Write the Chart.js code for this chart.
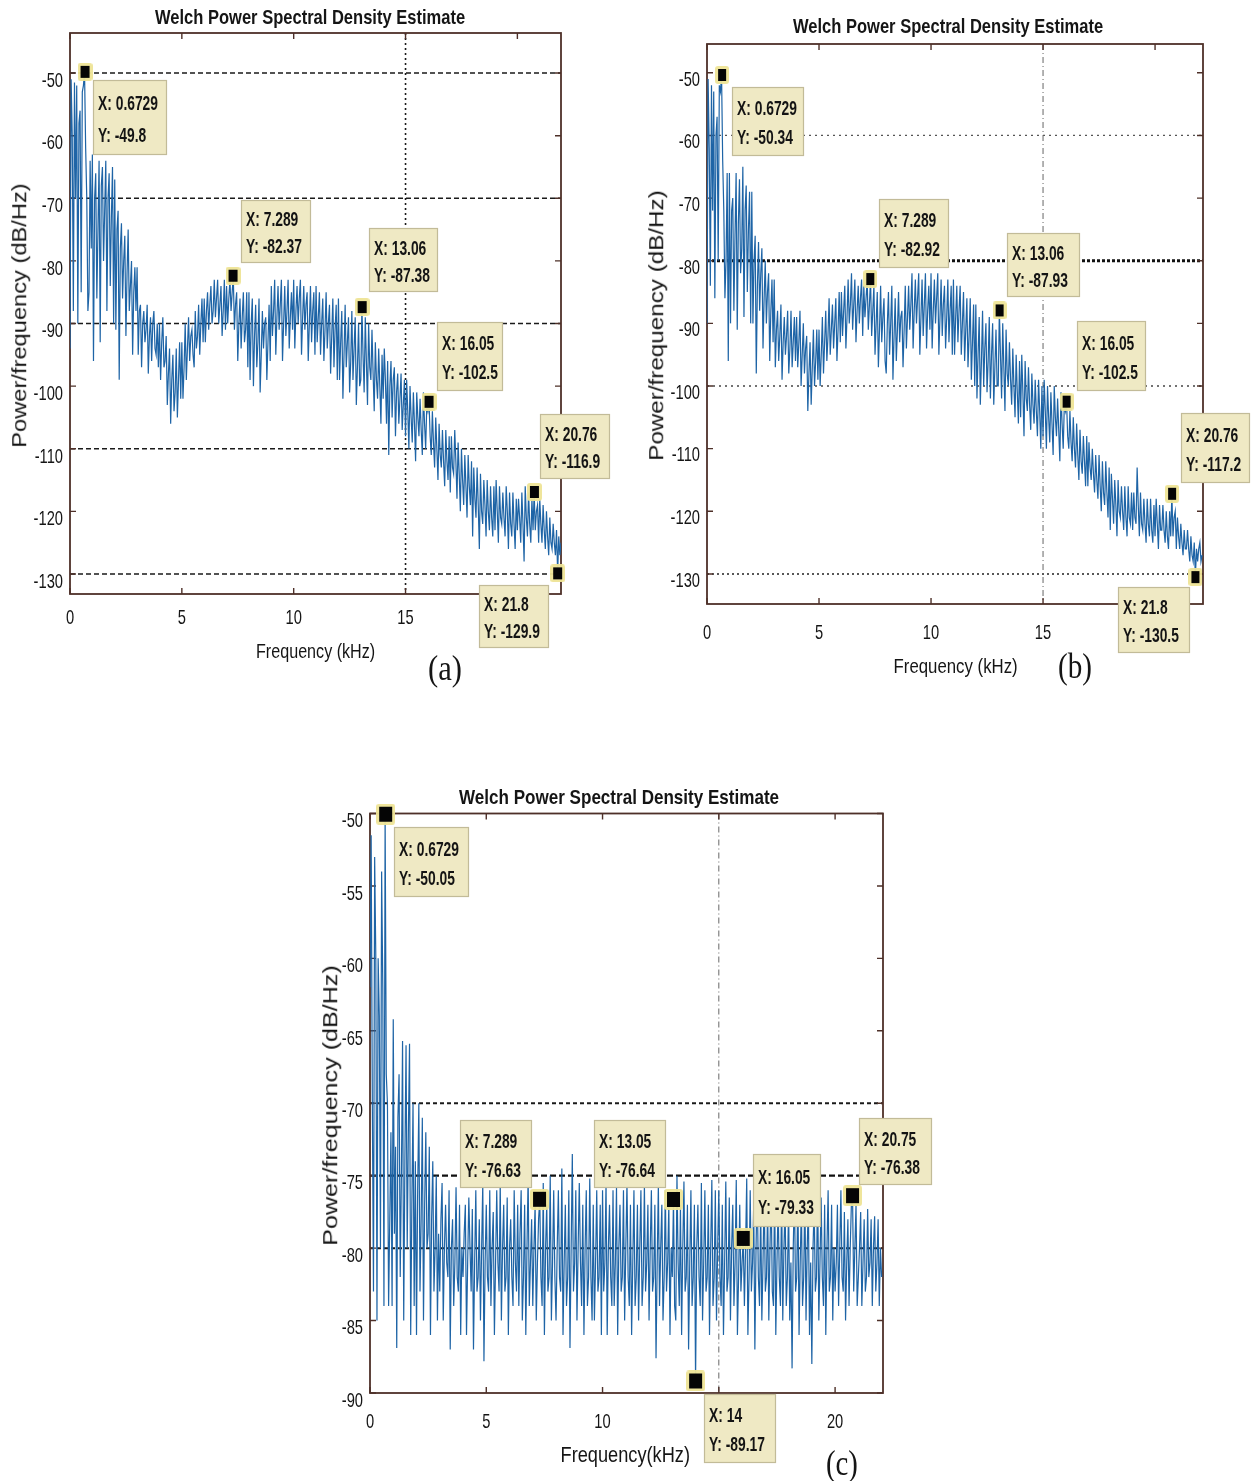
<!DOCTYPE html>
<html><head><meta charset="utf-8">
<script src="https://cdn.jsdelivr.net/npm/chart.js@4.4.1/dist/chart.umd.min.js"></script>
<style>
html,body{margin:0;padding:0;background:#fff;width:1253px;height:1481px;overflow:hidden;position:relative;font-family:'Liberation Sans',Arial,sans-serif;}
canvas{position:absolute;}
.lbl{position:absolute;white-space:nowrap;color:#151515;line-height:1;left:0;top:0;}
</style></head><body>
<canvas id="cA" width="625" height="700" style="left:0;top:0;width:625px;height:700px"></canvas>
<canvas id="cB" width="623" height="700" style="left:630px;top:0;width:623px;height:700px"></canvas>
<canvas id="cC" width="650" height="721" style="left:300px;top:760px;width:650px;height:721px"></canvas>
<script>
// ---------------- DATA ----------------
const binStepKHz = 0.05; // frequency bin spacing (kHz); one row = 1 kHz
const psdA = [
-94,-51,-60,-88,-51.5,-70,-52,-90,-58,-56,-85,-53,-52,-49.8,-62,-70,-88,-85,-64,-78,
-63,-96,-70,-66,-86,-75,-64,-93,-68,-65,-80,-72,-64,-88,-70,-66,-84,-73,-65,-90,
-67,-91,-75,-72,-99,-78,-74,-86,-80,-76,-92,-82,-75,-88,-84,-80,-95,-85,-81,-88,
-81,-95,-88,-87,-97,-90,-88,-93,-91,-87,-98,-92,-89,-96,-90,-88,-94,-95,-90,-97,
-90,-99,-93,-89,-97,-96,-92,-103,-98,-94,-106,-99,-95,-104,-101,-94,-105,-99,-93,-102,
-93,-102,-97,-90,-99,-94,-89,-96,-92,-91,-95,-97,-88,-94,-92,-87,-95,-90,-86,-93,
-86,-93,-88,-85,-91,-87,-84,-90,-88,-83,-89,-86,-83,-90,-87,-84,-92,-88,-83,-91,
-84,-90,-86,-83,-88,-85,-82.4,-91,-87,-85,-96,-90,-86,-94,-89,-85,-93,-91,-85,-97,
-85,-99,-90,-86,-100,-92,-87,-97,-93,-86,-101,-95,-88,-94,-90,-89,-99,-93,-87,-96,
-84,-92,-88,-83,-95,-89,-84,-91,-87,-83,-96,-90,-84,-92,-88,-83,-94,-89,-85,-91,
-83,-94,-88,-84,-90,-86,-83,-95,-89,-84,-91,-87,-85,-96,-90,-84,-93,-88,-85,-95,
-84,-93,-89,-85,-95,-90,-86,-96,-91,-85,-94,-90,-87,-98,-92,-86,-97,-91,-87,-99,
-86,-99,-93,-88,-102,-95,-87,-97,-93,-89,-101,-96,-88,-99,-94,-89,-103,-97,-90,-100,
-99,-87.4,-95,-101,-89,-96,-103,-90,-97,-99,-91,-98,-104,-93,-99,-102,-94,-100,-106,-95,
-102,-94,-99,-106,-96,-111,-100,-96,-105,-99,-97,-108,-101,-98,-106,-102,-98,-107,-103,-99,
-108,-99,-104,-110,-100,-105,-109,-101,-106,-112,-101,-105,-108,-102,-107,-111,-101,-106,-110,-103,
-104,-102.5,-108,-111,-104,-109,-113,-105,-110,-115,-106,-111,-113,-107,-112,-116,-107,-112,-115,-108,
-117,-108,-113,-114,-107,-112,-118,-109,-114,-120,-110,-115,-119,-111,-116,-121,-111,-116,-119,-112,
-124,-113,-118,-121,-113,-119,-126,-114,-120,-122,-115,-119,-124,-115,-120,-123,-116,-121,-124,-116,
-123,-115,-120,-125,-116,-121,-122,-117,-121,-124,-116,-120,-126,-117,-122,-124,-117,-122,-126,-118,
-123,-118,-121,-125,-117,-122,-128,-116,-121,-124,-117,-122,-125,-118,-123,-116.9,-123,-120,-119,-125,
-118,-122,-125,-119,-123,-126,-120,-124,-127,-121,-125,-126,-122,-125,-127,-123,-129.9,-124,-127,-125
];
const psdB = [
-90,-51,-62,-84,-52,-72,-53,-86,-60,-57,-80,-52,-53,-50.34,-64,-72,-86,-80,-66,-96,
-66,-90,-72,-70,-88,-76,-66,-91,-74,-67,-82,-78,-65,-89,-72,-68,-85,-75,-69,-90,
-69,-90,-80,-76,-98,-84,-77,-88,-82,-78,-94,-86,-80,-90,-85,-82,-96,-88,-83,-93,
-83,-97,-91,-88,-96,-92,-87,-99,-93,-89,-95,-92,-88,-98,-94,-88,-97,-93,-89,-96,
-89,-97,-93,-88,-100,-95,-90,-98,-94,-92,-104,-98,-93,-103,-97,-91,-100,-96,-91,-99,
-91,-100,-95,-89,-98,-93,-88,-96,-92,-86,-95,-91,-87,-94,-90,-86,-96,-91,-85,-93,
-85,-92,-88,-84,-94,-89,-83,-90,-87,-82,-91,-87,-83,-93,-88,-84,-90,-86,-83,-92,
-84,-89,-86,-83,-91,-87,-82.92,-92,-88,-84,-95,-90,-85,-97,-91,-84,-93,-89,-86,-96,
-98,-90,-85,-95,-90,-84,-99,-92,-86,-96,-91,-85,-93,-89,-88,-97,-91,-84,-94,-89,
-84,-91,-87,-82,-94,-88,-83,-90,-86,-82,-95,-89,-83,-92,-87,-82,-94,-88,-84,-91,
-82,-94,-88,-83,-90,-86,-82,-95,-89,-83,-92,-87,-84,-94,-89,-83,-93,-88,-84,-95,
-83,-95,-89,-84,-93,-88,-84,-95,-90,-85,-96,-91,-86,-97,-92,-86,-99,-93,-87,-100,
-87,-102,-95,-89,-103,-96,-88,-100,-94,-90,-101,-96,-89,-102,-95,-90,-103,-97,-91,-100,
-100,-87.93,-95,-102,-90,-97,-104,-91,-98,-100,-93,-99,-103,-94,-100,-105,-95,-101,-106,-96,
-105,-95,-101,-108,-96,-102,-104,-97,-103,-107,-98,-103,-106,-99,-104,-108,-99,-104,-110,-100,
-108,-99,-104,-110,-100,-105,-109,-101,-106,-111,-100,-105,-108,-102,-107,-112,-101,-106,-110,-103,
-104,-102.5,-108,-110,-104,-109,-112,-105,-110,-113,-106,-111,-115,-107,-112,-114,-108,-112,-116,-108,
-116,-109,-113,-115,-110,-114,-117,-111,-115,-118,-111,-116,-120,-112,-117,-119,-112,-117,-121,-113,
-123,-114,-118,-122,-115,-119,-124,-115,-120,-121,-116,-120,-123,-116,-121,-124,-116,-121,-122,-117,
-123,-117,-121,-122,-113,-119,-124,-117,-122,-123,-118,-122,-125,-118,-122,-124,-118,-123,-125,-119,
-124,-118,-122,-126,-119,-123,-123,-119,-123,-125,-120,-124,-126,-120,-124,-117.2,-124,-121,-120,-126,
-121,-124,-126,-122,-125,-127,-123,-126,-126,-123,-126,-128,-124,-127,-128,-125,-130.5,-126,-128,-126,
-125,-128,-127
];
const psdC = [
-62,-51.5,-70,-83,-53,-60,-85,-60,-64,-80,-54,-62,-84,-50.05,-68,-70,-84,-78,-72,-84,
-64.2,-79,-73,-86.9,-71,-68,-82,-75,-65.7,-85,-74,-66,-80,-72,-65.9,-86,-77,-70,-84,-74,
-86,-76,-70,-83,-78,-71,-85,-77,-72,-80,-79,-73,-86,-78,-74,-83,-80,-75,-85,-79,
-83,-78,-75.5,-85,-80,-77,-81,-82,-76,-87,-80,-78,-84,-81,-75.8,-82,-83,-77,-86,-80,
-82,-79,-77,-86,-81,-76.5,-80,-83,-77.3,-87,-81,-76,-83,-82,-78,-85,-80,-75.5,-87.8,-81,
-77,-82,-83,-76,-84,-80,-77.5,-86,-81,-76,-81,-83,-75.4,-85,-80,-77,-83,-82,-76.5,-86,
-80,-78,-82,-84,-76,-81,-83,-77,-84,-79,-76,-85,-82,-77,-86,-80,-75,-84,-81,-78,
-84,-80,-77,-85,-81,-78,-76.63,-82,-84,-75.5,-86,-80,-77,-83,-82,-75,-85,-81,-76,-82,
-85,-80,-76,-82,-83,-74.5,-86,-81,-77,-84,-82,-76,-86.9,-80,-73.5,-83,-81,-76,-85,-80,
-75.5,-81,-84,-77,-86,-80,-76,-84,-82,-75.2,-82,-85,-77,-85,-81,-76,-83,-82,-77,-86,
-76,-83,-81,-75.5,-86,-80,-77,-82,-84,-76,-84,-81,-75.8,-86,-80,-77,-83,-82,-76,-85,
-80,-75.5,-82,-84,-77,-86,-81,-76,-84,-82,-77,-85,-80,-76,-84,-82,-75.6,-83,-81,-77,
-85,-80,-76,-83,-82,-77,-87.6,-81,-75.6,-84,-80,-77,-85,-82,-76,-83,-81,-77,-86,-80,
-82,-76.64,-84,-85,-75,-81,-84,-77,-86,-80,-75.4,-83,-82,-77,-87,-81,-76,-84,-82,-77,
-89.17,-80,-77,-82,-84,-75.5,-85,-81,-76,-83,-82,-77,-86,-80,-75.3,-84,-82,-76,-85,-80,
-76,-82,-84,-77,-86,-81,-75.4,-83,-82,-76.5,-85,-80,-77,-84,-81,-75.3,-86,-82,-77,-83,
-81,-79.33,-84,-80,-75.2,-86,-82,-76,-83,-81,-77,-87,-80,-75.5,-82,-84,-77,-85,-81,-76,
-83,-82,-77,-85,-80,-76,-83,-84,-75.6,-86,-81,-77,-82,-84,-76,-85,-80,-77,-84,-82,
-77,-85,-81,-88.3,-80,-76,-83,-82,-75.8,-86,-81,-77,-84,-82,-76,-85,-80,-77,-86,-81,
-88,-80,-77,-83,-82,-75.5,-85,-81,-76.5,-82,-84,-77,-86,-80,-76,-83,-82,-77,-85,-80,
-83,-81,-77,-84,-80,-76,-82,-83,-77.5,-85,-81,-78,-84,-80,-77,-76.38,-83,-80,-77,-84,
-82,-80,-77.5,-84,-81,-78,-83,-82,-77.3,-82,-81,-78,-84,-80,-77.8,-83,-81,-78,-84,-80,
-82
];
// data tips
const tipXA = [0.6729, 7.289, 13.06, 16.05, 20.76, 21.8];
const tipYA = [-49.8, -82.37, -87.38, -102.5, -116.9, -129.9];
const tipXB = [0.6729, 7.289, 13.06, 16.05, 20.76, 21.8];
const tipYB = [-50.34, -82.92, -87.93, -102.5, -117.2, -130.5];
const tipXC = [0.6729, 7.289, 13.05, 16.05, 20.75, 14];
const tipYC = [-50.05, -76.63, -76.64, -79.33, -76.38, -89.17];
// reference lines (grid)
const gridYA = [-50, -70, -90, -110, -130], gridXA = [15];
const gridYB = [-60, -80, -100, -130],      gridXB = [15];
const gridYC = [-70, -75, -80],             gridXC = [15];
// axis ranges
const xMaxA = 21.95, yRangeA = [-133.2, -43.6];
const xMaxB = 22.14, yRangeB = [-134.8, -45.4];
const xMaxC = 22.06, yRangeC = [-90, -50];
// texts
const titleText = 'Welch Power Spectral Density Estimate';
const xTitles = ['Frequency (kHz)', 'Frequency (kHz)', 'Frequency(kHz)'];
const yTitle = 'Power/frequency (dB/Hz)';
const panelLetters = ['(a)', '(b)', '(c)'];

// ---------------- STYLE ----------------
const LINE = '#1e64a6', AXIS = '#4e3029';
const TICK_FONT = "21px 'Liberation Sans', Arial", TICK_SX = 0.7;
const TIP_FONT = "bold 20px 'Liberation Sans', Arial";
const tipSX = (() => { const g = document.createElement('canvas').getContext('2d'); g.font = TIP_FONT; return 60 / g.measureText('X: 0.6729').width; })();

function markerImg(w, h, halo){
  const cv = document.createElement('canvas');
  cv.width = w + 2*halo; cv.height = h + 2*halo;
  const g = cv.getContext('2d');
  g.fillStyle = 'rgba(238,228,150,0.95)';
  g.beginPath(); g.roundRect(0, 0, cv.width, cv.height, 3); g.fill();
  g.fillStyle = '#050505'; g.fillRect(halo, halo, w, h);
  return cv;
}

const CFG = {
  cA: { gridY: gridYA, gridX: gridXA,
        gridYStyle: gridYA.map(() => ({c:'#1a1a1a', w:1.6, d:[5,3]})),
        gridXStyle: [{c:'#1a1a1a', w:1.6, d:[2,3]}],
        tipX: tipXA, tipY: tipYA, yLabOff: 8, xLabOff: 24,
        box: [[8,8,74,75],[8,-76,70,63],[7,-79,69,64],[8,-80,66,69],[6,-78,70,65],[-79,12,70,63]] },
  cB: { gridY: gridYB, gridX: gridXB,
        gridYStyle: [{c:'#555', w:1.2, d:[2,4]}, {c:'#111', w:3, d:[3,2]}, {c:'#444', w:1.4, d:[2,4]}, {c:'#222', w:1.5, d:[2,3]}],
        gridXStyle: [{c:'#666', w:1, d:[6,3,1,3]}],
        tipX: tipXB, tipY: tipYB, yLabOff: 7, xLabOff: 29,
        box: [[10,12,72,69],[9,-80,70,69],[7,-77,73,64],[10,-81,69,70],[9,-81,69,70],[-77,10,72,66]] },
  cC: { gridY: gridYC, gridX: gridXC,
        gridYStyle: [{c:'#1a1a1a', w:2, d:[4,3]}, {c:'#111', w:2.2, d:[6,3]}, {c:'#1a1a1a', w:2, d:[4,3]}],
        gridXStyle: [{c:'#666', w:1, d:[6,3,1,3]}],
        tipX: tipXC, tipY: tipYC, yLabOff: 8, xLabOff: 29,
        box: [[8,13,75,70],[-80,-79,72,68],[-79,-79,72,68],[10,-84,68,73],[6,-78,73,67],[8,13,72,69]] }
};

const decor = {
  id: 'decor',
  beforeDatasetsDraw(chart){
    const c = CFG[chart.canvas.id]; if (!c) return;
    const {ctx, chartArea: a} = chart; const xs = chart.scales.x, ys = chart.scales.y;
    ctx.save();
    c.gridY.forEach((v, i) => {
      const s = c.gridYStyle[i]; const py = ys.getPixelForValue(v);
      ctx.strokeStyle = s.c; ctx.lineWidth = s.w; ctx.setLineDash(s.d);
      ctx.beginPath(); ctx.moveTo(a.left, py); ctx.lineTo(a.right, py); ctx.stroke();
    });
    c.gridX.forEach((v, i) => {
      const s = c.gridXStyle[i]; const px = xs.getPixelForValue(v);
      ctx.strokeStyle = s.c; ctx.lineWidth = s.w; ctx.setLineDash(s.d);
      ctx.beginPath(); ctx.moveTo(px, a.top); ctx.lineTo(px, a.bottom); ctx.stroke();
    });
    ctx.setLineDash([]);
    ctx.strokeStyle = AXIS; ctx.lineWidth = 1.4;
    ctx.beginPath();
    xs.ticks.forEach(t => { const px = xs.getPixelForValue(t.value);
      ctx.moveTo(px, a.bottom); ctx.lineTo(px, a.bottom - 6); ctx.moveTo(px, a.top); ctx.lineTo(px, a.top + 6); });
    ys.ticks.forEach(t => { const py = ys.getPixelForValue(t.value);
      ctx.moveTo(a.left, py); ctx.lineTo(a.left + 6, py); ctx.moveTo(a.right, py); ctx.lineTo(a.right - 6, py); });
    ctx.stroke();
    ctx.lineWidth = 1.8;
    ctx.strokeRect(a.left, a.top, a.right - a.left, a.bottom - a.top);
    // tick labels (condensed), positioned from the chart's own scales
    ctx.fillStyle = '#151515'; ctx.font = TICK_FONT; ctx.textBaseline = 'middle';
    ys.ticks.forEach(t => {
      const py = ys.getPixelForValue(t.value) + c.yLabOff;
      ctx.save(); ctx.translate(a.left - 7, py); ctx.scale(TICK_SX, 1);
      ctx.textAlign = 'right'; ctx.fillText(String(t.value), 0, 0); ctx.restore();
    });
    xs.ticks.forEach(t => {
      const px = xs.getPixelForValue(t.value);
      ctx.save(); ctx.translate(px, a.bottom + c.xLabOff); ctx.scale(TICK_SX, 1);
      ctx.textAlign = 'center'; ctx.fillText(String(t.value), 0, 0); ctx.restore();
    });
    ctx.restore();
  },
  afterDraw(chart){
    const c = CFG[chart.canvas.id]; if (!c) return;
    const {ctx} = chart; const xs = chart.scales.x, ys = chart.scales.y;
    ctx.save();
    c.tipX.forEach((tx, i) => {
      const px = xs.getPixelForValue(tx), py = ys.getPixelForValue(c.tipY[i]);
      const [dx, dy, w, h] = c.box[i];
      const bx = Math.round(px + dx), by = Math.round(py + dy);
      ctx.fillStyle = '#efe9c4';
      ctx.fillRect(bx, by, w, h);
      ctx.strokeStyle = '#c2bb98'; ctx.lineWidth = 1.2;
      ctx.strokeRect(bx + 0.5, by + 0.5, w - 1, h - 1);
      ctx.fillStyle = '#141414';
      ctx.font = TIP_FONT;
      ctx.textBaseline = 'middle'; ctx.textAlign = 'left';
      [['X: ' + tx, 0.33], ['Y: ' + c.tipY[i], 0.75]].forEach(([t, f]) => {
        ctx.save(); ctx.translate(bx + 5, by + h * f); ctx.scale(tipSX, 1);
        ctx.fillText(t, 0, 0); ctx.restore();
      });
    });
    ctx.restore();
  }
};

function build(id, psd, tipX, tipY, xMax, yRange, geom, marker){
  const pts = psd.map((v, i) => ({x: Math.round(i * binStepKHz * 1000) / 1000, y: v}));
  const tips = tipX.map((x, i) => ({x, y: tipY[i]}));
  return new Chart(document.getElementById(id), {
    type: 'line',
    data: { datasets: [
      { data: pts, borderColor: LINE, borderWidth: 1.2, pointRadius: 0, tension: 0, order: 2, fill: false },
      { data: tips, showLine: false, pointStyle: marker, pointRadius: 6, order: 1, clip: false }
    ]},
    options: {
      responsive: false, animation: false, devicePixelRatio: 1,
      layout: { padding: { left: 0, right: geom.pr, top: geom.pt, bottom: geom.pb } },
      plugins: { legend: {display: false}, tooltip: {enabled: false}, title: {display: false} },
      scales: {
        x: { type: 'linear', min: 0, max: xMax,
             afterFit: s => { s.height = 40; },
             grid: {display: false, drawTicks: false}, border: {display: false},
             ticks: { display: false, stepSize: 5, includeBounds: false, autoSkip: false, maxRotation: 0 } },
        y: { type: 'linear', min: yRange[0], max: yRange[1],
             afterFit: s => { s.width = geom.yw; },
             grid: {display: false, drawTicks: false}, border: {display: false},
             ticks: { display: false, stepSize: geom.ystep, includeBounds: false, autoSkip: false } }
      }
    },
    plugins: [decor]
  });
}

build('cA', psdA, tipXA, tipYA, xMaxA, yRangeA, {pr: 64, pt: 33, pb: 66, yw: 70, ystep: 10}, markerImg(9, 12, 3));
build('cB', psdB, tipXB, tipYB, xMaxB, yRangeB, {pr: 50, pt: 44, pb: 56, yw: 77, ystep: 10}, markerImg(8, 12, 3));
build('cC', psdC, tipXC, tipYC, xMaxC, yRangeC, {pr: 67, pt: 53.5, pb: 48, yw: 70, ystep: 5}, markerImg(13, 15, 3));

// ---------------- HTML LABELS ----------------
const labelSpecs = [
  {t: titleText, cx: 310, cy: 17, w: 310, f: "bold 21px 'Liberation Sans', Arial"},
  {t: titleText, cx: 948, cy: 26, w: 310, f: "bold 21px 'Liberation Sans', Arial"},
  {t: titleText, cx: 619, cy: 797, w: 320, f: "bold 21px 'Liberation Sans', Arial"},
  {t: yTitle, cx: 19, cy: 315, w: 264, f: "20px 'Liberation Sans', Arial", rot: true},
  {t: yTitle, cx: 656, cy: 325, w: 270, f: "20px 'Liberation Sans', Arial", rot: true},
  {t: yTitle, cx: 330, cy: 1105, w: 280, f: "20px 'Liberation Sans', Arial", rot: true},
  {t: xTitles[0], cx: 315, cy: 651, w: 119, f: "21px 'Liberation Sans', Arial"},
  {t: xTitles[1], cx: 955, cy: 666, w: 124, f: "21px 'Liberation Sans', Arial"},
  {t: xTitles[2], cx: 625, cy: 1455, w: 129, f: "22px 'Liberation Sans', Arial"},
  {t: panelLetters[0], cx: 445, cy: 668, w: 34, f: "36px 'Liberation Serif', serif"},
  {t: panelLetters[1], cx: 1075, cy: 666, w: 34, f: "36px 'Liberation Serif', serif"},
  {t: panelLetters[2], cx: 842, cy: 1463, w: 32, f: "36px 'Liberation Serif', serif"}
];
labelSpecs.forEach(s => {
  const d = document.createElement('div');
  d.className = 'lbl'; d.textContent = s.t; d.style.font = s.f;
  document.body.appendChild(d);
  const nw = d.offsetWidth, nh = d.offsetHeight;
  const sx = s.w / nw;
  d.style.left = (s.cx - nw / 2) + 'px'; d.style.top = (s.cy - nh / 2) + 'px';
  d.style.transform = (s.rot ? 'rotate(-90deg) ' : '') + `scaleX(${sx})`;
});
</script>
</body></html>
